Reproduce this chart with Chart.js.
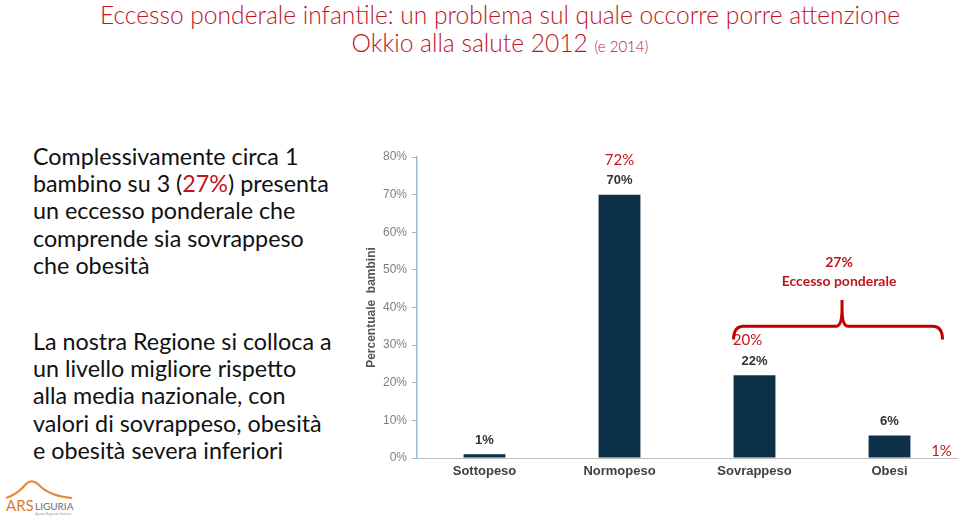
<!DOCTYPE html>
<html>
<head>
<meta charset="utf-8">
<script src="https://cdn.jsdelivr.net/npm/chart.js@4"></script>
<style>
  body { margin: 0; width: 960px; height: 523px; background: #fff; overflow: hidden; position: relative; font-family: Lato, "Open Sans", sans-serif; }
  .title { position: absolute; left: 40px; width: 920px; text-align: center; color: #c0151f; font-weight: 300; }
  #t1 { top: 0px; font-size: 24.6px; }
  #t2 { top: 28px; font-size: 24.6px; }
  #t2 small { font-size: 15px; }
  .para { position: absolute; left: 33px; font-size: 23.3px; line-height: 27.2px; color: #111; }
  #p1 { top: 143px; }
  #p2 { top: 328px; }
  .red { color: #c0151f; }
  #chartBox { position: absolute; left: 340px; top: 140px; width: 620px; height: 345px; }
  #logo { position: absolute; left: 4px; top: 478px; }
</style>
</head>
<body>
<div class="title" id="t1">Eccesso ponderale infantile: un problema sul quale occorre porre attenzione</div>
<div class="title" id="t2">Okkio alla salute 2012 <small>(e 2014)</small></div>

<div class="para" id="p1">Complessivamente circa 1<br>bambino su 3 (<span class="red">27%</span>) presenta<br>un eccesso ponderale che<br>comprende sia sovrappeso<br>che obesità</div>
<div class="para" id="p2">La nostra Regione si colloca a<br>un livello migliore rispetto<br>alla media nazionale, con<br>valori di sovrappeso, obesità<br>e obesità severa inferiori</div>

<svg id="logo" width="72" height="40" viewBox="0 0 72 40">
  <path d="M2 20 Q 14 16 22 6 Q 28 0 36 8 Q 46 18 68 20" fill="none" stroke="#e58a3a" stroke-width="2.2"/>
  <text x="2" y="33" font-family="Lato, sans-serif" font-size="15" fill="#e07b2a">ARS</text>
  <text x="31" y="32" font-family="Lato, sans-serif" font-size="10" fill="#6d6e71">LIGURIA</text>
  <text x="31" y="37" font-family="Lato, sans-serif" font-size="3" fill="#999">Agenzia Regionale Sanitaria</text>
</svg>

<div id="chartBox"><canvas id="chart"></canvas></div>

<script>
// data
const categories = ['Sottopeso', 'Normopeso', 'Sovrappeso', 'Obesi'];
const values2012 = [1, 70, 22, 6];
const values2014 = [null, 72, 20, 1];
const yTicks = [0, 10, 20, 30, 40, 50, 60, 70, 80];
const excessTotal = 27;
const excessLabel = 'Eccesso ponderale';

const red = '#c0151f';

// value labels above the bars + red 2014 figures + bracket
const annotations = {
    id: 'annotations',
    afterDatasetsDraw(chart) {
        const ctx = chart.ctx;
        const meta = chart.getDatasetMeta(0);
        const y = chart.scales.y;
        ctx.save();
        ctx.textAlign = 'center';
        ctx.textBaseline = 'middle';

        // black 2012 labels
        ctx.font = 'bold 13px Arial';
        ctx.fillStyle = '#333';
        meta.data.forEach((bar, i) => {
            ctx.fillText(values2012[i] + '%', bar.x, bar.y - 14);
        });

        // red 2014 labels
        ctx.font = '15px Lato';
        ctx.fillStyle = red;
        meta.data.forEach((bar, i) => {
            const v = values2014[i];
            if (v === null) return;
            if (i === 3) {
                ctx.fillText(v + '%', bar.x + 52, y.getPixelForValue(v) - 3);
            } else if (i === 2) {
                ctx.fillText(v + '%', bar.x - 7, bar.y - 35);
            } else {
                ctx.fillText(v + '%', bar.x, bar.y - 34);
            }
        });

        // bracket over sovrappeso + obesi
        const b2 = meta.data[2], b3 = meta.data[3];
        const x0 = b2.x - b2.width / 2;
        const x1 = b3.x + 53;
        const xm = (x0 + x1) / 2 + 4;
        const yH = y.getPixelForValue(35);
        const yEnd = y.getPixelForValue(31.5);
        const yPeak = y.getPixelForValue(42);
        ctx.strokeStyle = '#c00000';
        ctx.lineWidth = 3;
        ctx.beginPath();
        ctx.moveTo(x0, yEnd);
        ctx.quadraticCurveTo(x0, yH, x0 + 10, yH);
        ctx.lineTo(xm - 6, yH);
        ctx.quadraticCurveTo(xm, yH, xm, yPeak + 8);
        ctx.lineTo(xm, yPeak);
        ctx.moveTo(xm, yPeak + 8);
        ctx.quadraticCurveTo(xm, yH, xm + 6, yH);
        ctx.lineTo(x1 - 10, yH);
        ctx.quadraticCurveTo(x1, yH, x1, yEnd);
        ctx.stroke();

        ctx.fillStyle = red;
        ctx.font = 'bold 14px Lato';
        ctx.fillText(excessTotal + '%', xm - 3, y.getPixelForValue(52));
        ctx.fillText(excessLabel, xm - 3, y.getPixelForValue(47));
        ctx.restore();
    }
};

new Chart(document.getElementById('chart'), {
    type: 'bar',
    data: {
        labels: categories,
        datasets: [{
            data: values2012,
            backgroundColor: '#0d3049',
            barPercentage: 0.31,
            categoryPercentage: 1
        }]
    },
    options: {
        responsive: true,
        maintainAspectRatio: false,
        animation: false,
        layout: { padding: { top: 17, right: 3, left: 0, bottom: 0 } },
        plugins: { legend: { display: false }, tooltip: { enabled: false } },
        scales: {
            x: {
                grid: { display: false, drawTicks: false },
                border: { display: true, color: '#bfbfbf', width: 1 },
                ticks: { color: '#404040', font: { family: 'Arial', size: 13, weight: 'bold' }, padding: 6 },
                afterFit(scale) { scale.height = 27; }
            },
            y: {
                min: yTicks[0],
                max: yTicks[yTicks.length - 1],
                afterBuildTicks(scale) { scale.ticks = yTicks.map(v => ({ value: v })); },
                grid: { drawOnChartArea: false, drawTicks: true, tickLength: 5, color: '#9db8d6' },
                border: { display: true, color: '#9db8d6', width: 1.5 },
                ticks: {
                    color: '#808080',
                    font: { family: 'Arial', size: 12 },
                    padding: 5,
                    callback: v => v + '%'
                },
                title: {
                    display: true,
                    text: 'Percentuale  bambini',
                    color: '#555',
                    font: { family: 'Arial', size: 12, weight: 'bold' },
                    padding: { top: 24, bottom: 0 }
                },
                afterFit(scale) { scale.width = 77; }
            }
        }
    },
    plugins: [annotations]
});
</script>
</body>
</html>
